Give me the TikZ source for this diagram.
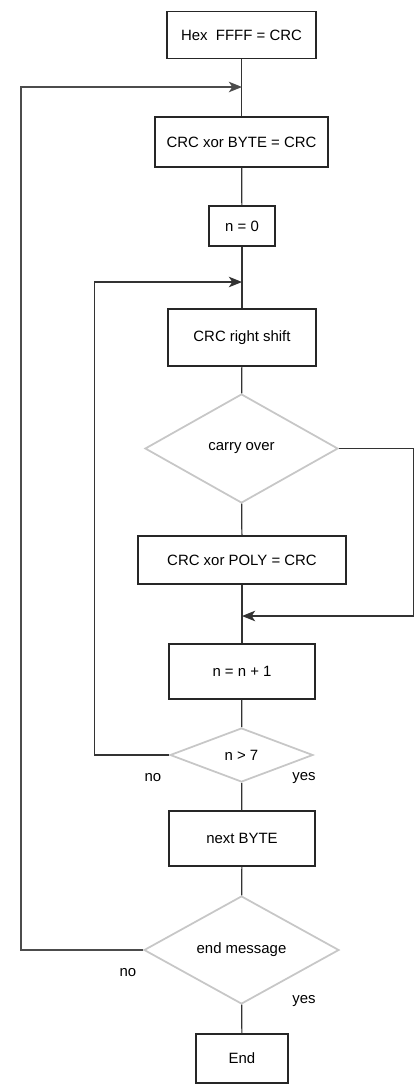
\documentclass[tikz,border=0pt]{standalone}
\usepackage{fontspec}
\setmainfont{Liberation Sans}
\usetikzlibrary{shapes.geometric,arrows.meta}

\begin{document}
\begin{tikzpicture}[x=0.02cm,y=-0.02cm,
    box/.style={draw=black!85,line width=0.7pt,fill=white,inner sep=0pt,font=\fontsize{8.5}{10}\selectfont},
    cond/.style={draw=black!22,line width=1pt,fill=white,diamond,inner sep=0pt,font=\fontsize{8.5}{10}\selectfont},
    flow/.style={draw=black!80,line width=0.7pt},
    back/.style={flow,-{Stealth[length=7.5pt,width=6pt,inset=2pt]}},
    lbl/.style={font=\fontsize{8.5}{10}\selectfont}]
      \useasboundingbox (0,0) rectangle (416,1086);

      \node[box,minimum width=2.98cm,minimum height=0.94cm] (init) at (241.5,35) {Hex\ \ FFFF = CRC};
      \node[box,minimum width=3.46cm,minimum height=1.0cm] (xorbyte) at (241.5,142) {CRC xor BYTE = CRC};
      \node[box,minimum width=1.32cm,minimum height=0.8cm] (nzero) at (242,226) {n = 0};
      \node[box,minimum width=2.96cm,minimum height=1.14cm] (shift) at (242,337.5) {CRC right shift};
      \node[cond,minimum width=3.86cm,minimum height=2.18cm] (carry) at (241.5,448.5) {carry over};
      \node[box,minimum width=4.16cm,minimum height=0.96cm] (xorpoly) at (242,560) {CRC xor POLY = CRC};
      \node[box,minimum width=2.92cm,minimum height=1.1cm] (ninc) at (242,671.5) {n = n + 1};
      \node[cond,minimum width=2.86cm,minimum height=1.08cm] (count) at (241.5,755) {n > 7};
      \node[box,minimum width=2.92cm,minimum height=1.1cm] (next) at (242,838.5) {next BYTE};
      \node[cond,minimum width=3.9cm,minimum height=2.16cm] (endmsg) at (241.5,950) {end message};
      \node[box,minimum width=1.84cm,minimum height=0.98cm] (stop) at (242,1058.5) {End};

      \coordinate (outerin) at (242,87);
      \coordinate (innerin) at (242,282);
      \coordinate (merge) at (242,616);

      \draw[flow] (init) -- (xorbyte);
      \draw[flow] (xorbyte) -- (nzero);
      \draw[flow] (nzero) -- (shift);
      \draw[flow] (shift) -- (carry);
      \draw[flow] (carry) -- (xorpoly);
      \draw[flow] (xorpoly) -- (ninc);
      \draw[flow] (ninc) -- (count);
      \draw[flow] (count) -- (next);
      \draw[flow] (next) -- (endmsg);
      \draw[flow] (endmsg) -- (stop);

      \draw[back] (carry.east) -- ++(75,0) |- (merge);
      \draw[back] (count.west) -- ++(-75,0) |- (innerin);
      \draw[back,line width=0.9pt,draw=black!70] (endmsg.west) -- ++(-122,0) |- (outerin);

      \node[lbl] (noA) at (153,778) {no};
      \node[lbl] (yesA) at (304,778) {yes};
      \node[lbl] (noB) at (128,973) {no};
      \node[lbl] (yesB) at (304,1001) {yes};
    \end{tikzpicture}
\end{document}
